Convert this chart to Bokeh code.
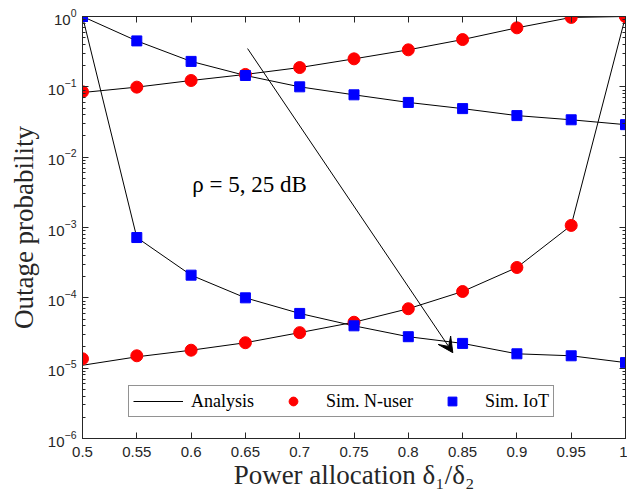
from bokeh.plotting import figure
from bokeh.models import (Range1d, LogAxis, LinearAxis, FixedTicker, NumeralTickFormatter,
                          Legend, LegendItem, Arrow, VeeHead, Label)
from bokeh.embed import file_html
from bokeh.resources import INLINE

# ---- data ----
x = [0.5, 0.55, 0.6, 0.65, 0.7, 0.75, 0.8, 0.85, 0.9, 0.95, 1.0]

# rho = 5 dB
nuser_sim_5 = [0.085, 0.099, 0.123, 0.15, 0.188, 0.25, 0.336, 0.47, 0.69, 0.97, 1.0]
nuser_ana_5 = [0.083, 0.099, 0.123, 0.15, 0.188, 0.25, 0.336, 0.47, 0.69, 0.97, 1.0]
iot_sim_5 = [1.0, 0.45, 0.23, 0.145, 0.10, 0.077, 0.060, 0.049, 0.039, 0.034, 0.029]
iot_ana_5 = [1.0, 0.45, 0.23, 0.145, 0.10, 0.077, 0.060, 0.049, 0.039, 0.034, 0.029]

# rho = 25 dB
nuser_sim_25 = [1.36e-5, 1.5e-5, 1.8e-5, 2.3e-5, 3.2e-5, 4.5e-5, 7.0e-5, 1.23e-4, 2.7e-4, 1.07e-3, 1.0]
nuser_ana_25 = [1.1e-5, 1.45e-5, 1.8e-5, 2.3e-5, 3.2e-5, 4.5e-5, 7.0e-5, 1.23e-4, 2.7e-4, 1.07e-3, 1.0]
iot_sim_25 = [1.0, 7.2e-4, 2.1e-4, 1.0e-4, 6.0e-5, 4.0e-5, 2.8e-5, 2.25e-5, 1.6e-5, 1.5e-5, 1.2e-5]
iot_ana_25 = [1.0, 7.2e-4, 2.1e-4, 1.0e-4, 6.0e-5, 4.0e-5, 2.8e-5, 2.25e-5, 1.6e-5, 1.5e-5, 1.2e-5]

x_ticks = [0.5, 0.55, 0.6, 0.65, 0.7, 0.75, 0.8, 0.85, 0.9, 0.95, 1.0]
y_ticks = [1e-6, 1e-5, 1e-4, 1e-3, 1e-2, 1e-1, 1.0]
y_minor = [m * 10.0 ** e for e in range(-6, 0) for m in range(2, 10)]

arrow_start = (0.652, 0.35)
arrow_end = (0.841, 1.66e-5)
note_text = "\u03c1 = 5, 25 dB"
note_pos = (0.601, 2.7e-3)

SERIF = "Liberation Serif"
SANS = "Liberation Sans"
AX = "#262626"

p = figure(width=627, height=504, x_range=Range1d(0.5, 1.0), y_range=Range1d(1e-6, 1.0),
           y_axis_type="log", output_backend="svg", toolbar_location=None,
           min_border_left=82, min_border_right=2, min_border_top=16, min_border_bottom=66)
p.background_fill_color = "white"
p.border_fill_color = "white"
p.outline_line_color = AX
p.xgrid.visible = False
p.ygrid.visible = False

# analysis lines
lines = []
for ys in [nuser_ana_5, iot_ana_5, nuser_ana_25, iot_ana_25]:
    lines.append(p.line(x, ys, line_color="black", line_width=1))

circ = []
sq = []
for ys in [nuser_sim_5, nuser_sim_25]:
    circ.append(p.scatter(x, ys, marker="circle", size=12, fill_color="#ff0000", line_color="#ff0000"))
for ys in [iot_sim_5, iot_sim_25]:
    sq.append(p.scatter(x, ys, marker="square", size=10, fill_color="#0000ff", line_color="#0000ff"))

# axes
xa = p.xaxis[0]
xa.ticker = FixedTicker(ticks=x_ticks)
xa.formatter = NumeralTickFormatter(format="0.[00]")
xa.axis_label = "Power allocation \u03b4\u2081/\u03b4\u2082"
ya = p.yaxis[0]
ya.ticker = FixedTicker(ticks=y_ticks, minor_ticks=y_minor)
ya.axis_label = "Outage probability"

for ax in [xa, ya]:
    ax.axis_line_color = AX
    ax.major_tick_line_color = AX
    ax.minor_tick_line_color = AX
    ax.major_tick_in = 6
    ax.major_tick_out = 0
    ax.minor_tick_in = 3
    ax.minor_tick_out = 0
    ax.major_label_text_font = SANS
    ax.major_label_text_font_size = "15px"
    ax.major_label_text_color = AX
    ax.axis_label_text_font = SERIF
    ax.axis_label_text_font_style = "normal"
    ax.axis_label_text_font_size = "27px"
    ax.axis_label_text_color = AX
xa.minor_tick_line_color = None
xa.major_label_standoff = 8
xa.axis_label_standoff = 0
ya.major_label_standoff = 6
ya.axis_label_standoff = 6

# box axes (top / right) with inward ticks only; labels invisible
top = LinearAxis(ticker=FixedTicker(ticks=x_ticks), major_label_text_font_size="1px",
                 major_label_text_color=None,
                 major_tick_in=6, major_tick_out=0, minor_tick_line_color=None,
                 axis_line_color=AX, major_tick_line_color=AX, major_label_standoff=0)
p.add_layout(top, "above")
right = LogAxis(ticker=FixedTicker(ticks=y_ticks, minor_ticks=y_minor),
                major_label_text_font_size="1px", major_label_text_color=None,
                major_tick_in=6, major_tick_out=0, minor_tick_in=3, minor_tick_out=0,
                axis_line_color=AX, major_tick_line_color=AX,
                minor_tick_line_color=AX, major_label_standoff=0)
p.add_layout(right, "right")

# arrow and note
p.add_layout(Arrow(end=VeeHead(size=15, fill_color="black", line_color="black"),
                   x_start=arrow_start[0], y_start=arrow_start[1],
                   x_end=arrow_end[0], y_end=arrow_end[1], line_color="black", line_width=1))
p.add_layout(Label(x=note_pos[0], y=note_pos[1], text=note_text, text_font=SERIF,
                   text_font_size="23px", text_color="black"))

legend = Legend(items=[LegendItem(label="Analysis", renderers=[lines[0]]),
                       LegendItem(label="Sim. N-user", renderers=[circ[0]]),
                       LegendItem(label="Sim. IoT", renderers=[sq[0]])],
                orientation="horizontal", location=(46, 21))
legend.label_text_font = SERIF
legend.label_text_font_size = "18px"
legend.label_text_color = "black"
legend.glyph_width = 50
legend.glyph_height = 22
legend.label_height = 22
legend.label_standoff = 8
legend.spacing = 14
legend.padding = 4
legend.margin = 0
legend.border_line_color = AX
legend.border_line_width = 1
legend.background_fill_color = "white"
legend.background_fill_alpha = 1
p.add_layout(legend, "center")

open("out.html", "w").write(file_html(p, INLINE))
